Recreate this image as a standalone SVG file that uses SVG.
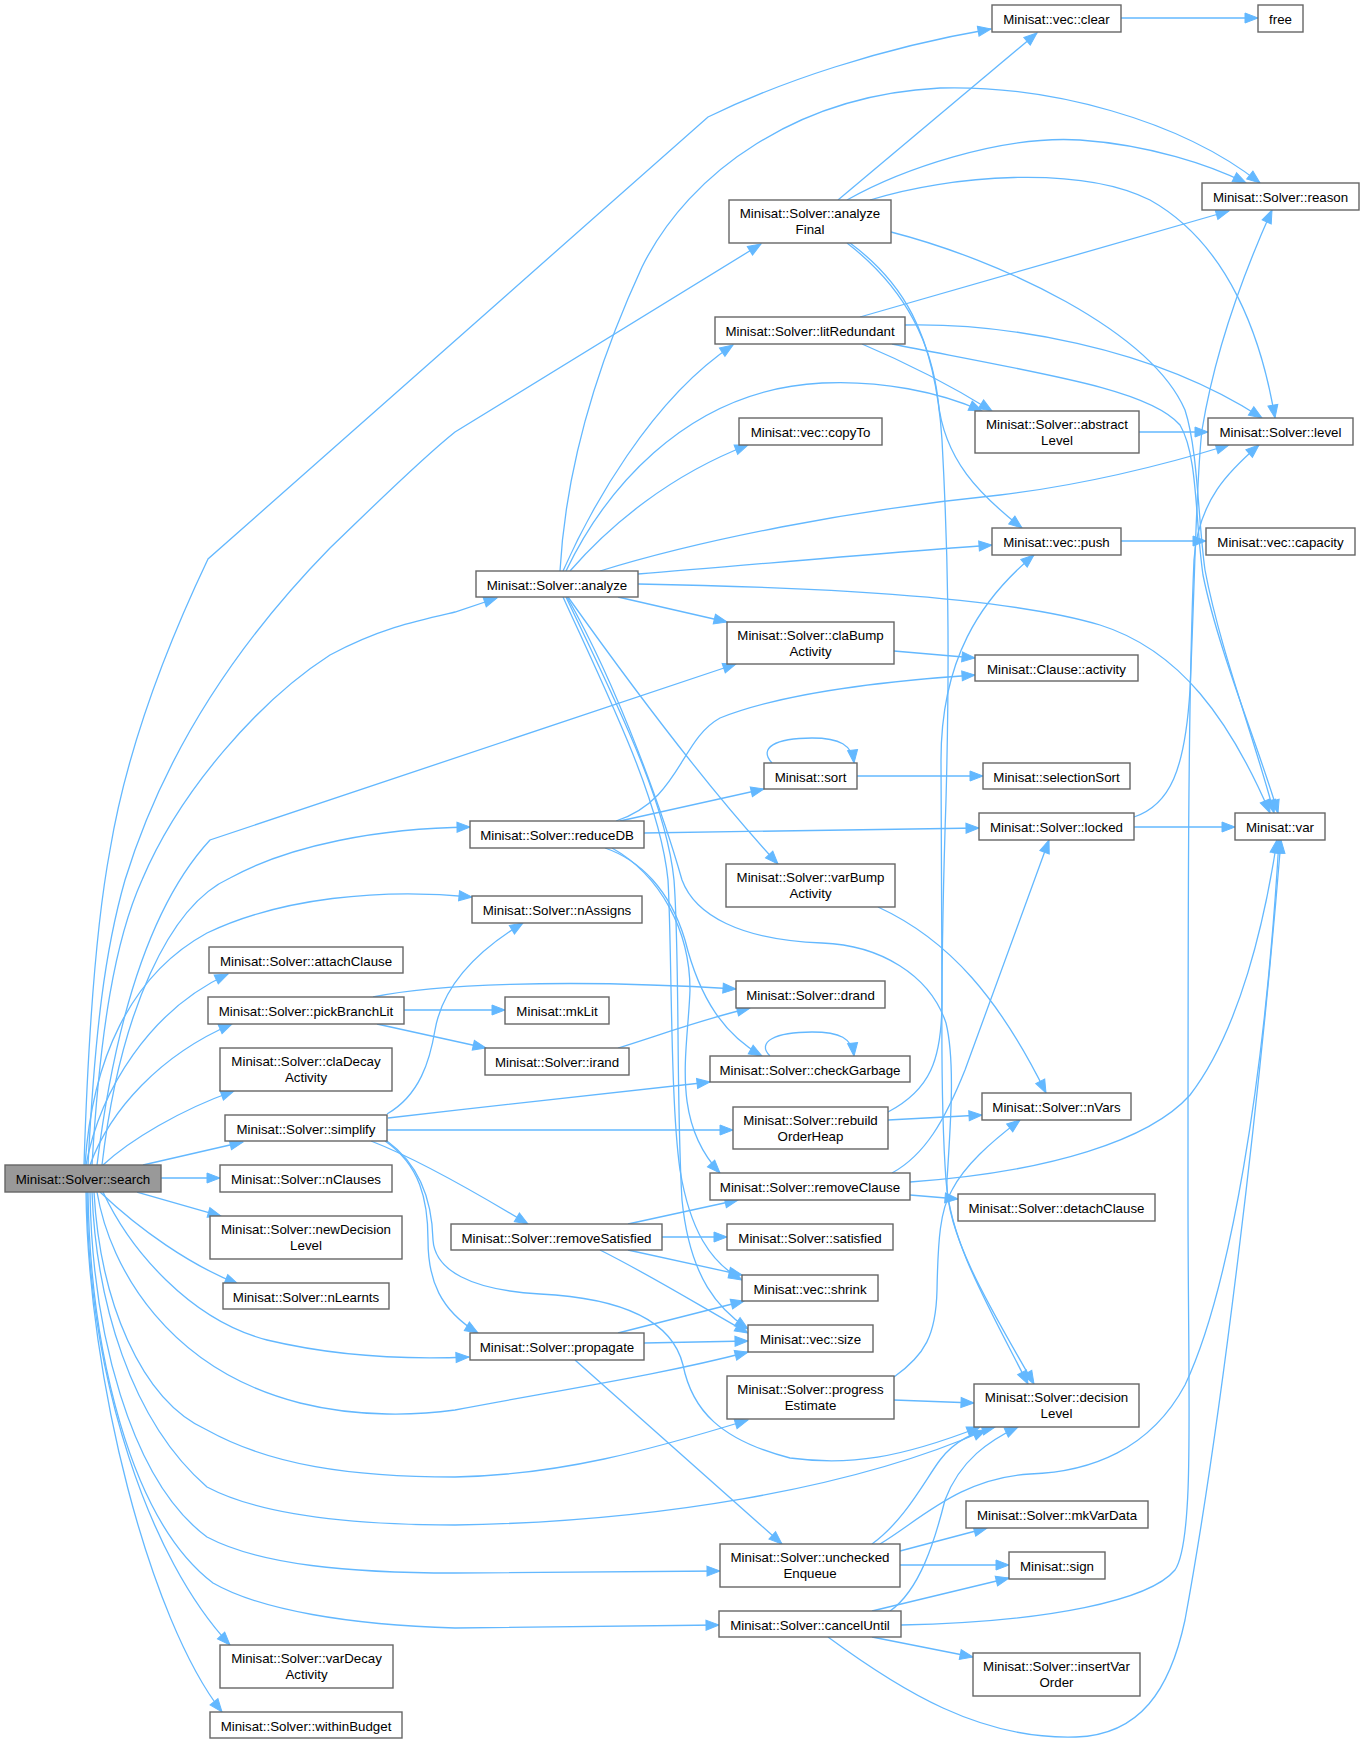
<svg xmlns="http://www.w3.org/2000/svg" width="1364" height="1745" viewBox="0 0 1364 1745">
<style>
.n rect{fill:#fff;stroke:#666;stroke-width:1.4}
.n text{font-family:"Liberation Sans",Arial,Helvetica,sans-serif;font-size:13.3px;text-anchor:middle;fill:#000}
#edges path{fill:none;stroke:#63b8ff;stroke-width:1.3;marker-end:url(#ah)}
</style>
<defs>
<marker id="ah" markerUnits="userSpaceOnUse" markerWidth="14" markerHeight="11" refX="13" refY="5" orient="auto" overflow="visible">
<path d="M0,0 L13,5 L0,10 z" fill="#63b8ff" stroke="#63b8ff" stroke-width="1"/>
</marker>
</defs>
<rect width="1364" height="1745" fill="#fff"/>
<g id="edges">
<!-- search -->
<path d="M84,1165 C88,1040 95,930 110,850 C125,760 160,660 208,559 L708,117 C780,82 880,48 991,29"/>
<path d="M88,1165 C95,1030 105,950 125,880 C165,750 240,640 330,548 C380,500 420,460 455,432 L761,244"/>
<path d="M92,1165 C100,1030 115,940 142,880 C180,790 260,700 330,655 C380,628 420,620 455,612 L497,598"/>
<path d="M97,1165 C115,1020 150,905 210,840 L736,664"/>
<path d="M102,1165 C120,1010 170,905 230,878 C290,845 380,828 470,827"/>
<path d="M85,1165 C92,1060 130,975 207,933 C280,898 380,888 472,897"/>
<path d="M86,1165 C100,1090 150,1010 228,974"/>
<path d="M90,1165 C110,1110 160,1055 232,1024"/>
<path d="M103,1165 C130,1140 180,1110 234,1091"/>
<path d="M143,1165 L243,1142"/>
<path d="M161,1178 L220,1178"/>
<path d="M137,1192 L221,1216"/>
<path d="M100,1192 C140,1230 190,1265 238,1284"/>
<path d="M103,1192 C130,1250 190,1320 267,1340 C330,1355 400,1360 469,1357"/>
<path d="M97,1192 C110,1270 170,1370 300,1403 C360,1418 420,1415 455,1410 C560,1390 660,1375 748,1352"/>
<path d="M94,1192 C100,1300 140,1400 207,1430 C270,1465 350,1477 455,1477 C560,1475 650,1450 748,1420"/>
<path d="M92,1192 C96,1300 130,1420 207,1487 C260,1515 350,1525 455,1525 C650,1522 850,1490 986,1430"/>
<path d="M90,1192 C92,1330 130,1480 207,1537 C260,1565 350,1573 455,1573 L720,1571"/>
<path d="M88,1192 C90,1350 130,1520 213,1583 C260,1610 350,1625 455,1628 L719,1625"/>
<path d="M87,1192 C88,1380 150,1560 230,1645"/>
<path d="M86,1192 C88,1380 150,1620 222,1712"/>
<!-- analyzeFinal -->
<path d="M838,200 L1037,33"/>
<path d="M847,200 C900,170 1000,135 1080,140 C1150,145 1210,165 1246,183"/>
<path d="M870,200 C950,175 1080,165 1150,200 C1230,245 1262,340 1275,418"/>
<path d="M891,232 C1000,260 1150,330 1185,410 C1198,450 1198,520 1205,570 C1220,650 1255,740 1274,813"/>
<path d="M847,243 C895,280 930,330 938,400 C944,460 980,495 1022,528"/>
<path d="M850,243 C900,280 935,330 942,440 C948,550 950,650 946,800 C941,950 940,1100 946,1180 C950,1240 985,1300 1028,1384"/>
<!-- litRedundant -->
<path d="M860,317 L1229,211"/>
<path d="M905,325 C1000,323 1150,345 1262,418"/>
<path d="M892,344 C1050,375 1150,390 1180,425 C1198,455 1195,520 1203,575 C1218,650 1258,745 1278,813"/>
<path d="M862,344 C900,360 950,385 992,411"/>
<!-- analyze -->
<path d="M560,571 C565,480 590,380 642,267 C690,170 800,95 940,88 C1050,85 1180,120 1260,183"/>
<path d="M563,571 C590,510 650,400 733,345"/>
<path d="M566,571 C600,500 680,390 822,383 C880,380 940,392 982,411"/>
<path d="M570,571 C610,525 670,475 748,445"/>
<path d="M600,571 C700,540 850,510 1000,495 C1100,483 1180,460 1229,445"/>
<path d="M638,574 C750,565 880,553 992,545"/>
<path d="M638,584 C800,587 1000,595 1100,625 C1180,650 1230,720 1270,813"/>
<path d="M618,597 L727,622"/>
<path d="M568,597 C620,670 700,780 778,864"/>
<path d="M563,597 C610,700 660,800 668,880 C672,950 670,1100 680,1170 C690,1230 710,1262 742,1280"/>
<path d="M566,597 C615,700 666,800 674,880 C680,960 676,1100 682,1200 C690,1280 720,1310 748,1329"/>
<path d="M567,597 C620,690 665,820 682,880 C695,915 740,940 822,943 C880,945 930,975 946,1023 C955,1060 951,1120 947,1180 C945,1230 985,1300 1034,1384"/>
<!-- others -->
<path d="M1121,18 L1258,18"/>
<path d="M1139,432 L1208,432"/>
<path d="M1121,541 L1206,541"/>
<path d="M894,651 L975,658"/>
<path d="M616,821 C680,800 680,740 720,718 C790,690 900,680 975,675"/>
<path d="M620,821 L764,789"/>
<path d="M644,833 L979,828"/>
<path d="M605,848 C640,860 670,890 685,940 C700,1000 725,1035 762,1056"/>
<path d="M612,848 C660,875 690,930 690,990 C688,1050 670,1120 720,1173"/>
<path d="M857,776 L983,776"/>
<path d="M772,763 C758,748 775,738 812,738 C840,738 852,745 854,763"/>
<path d="M770,1056 C756,1042 775,1032 812,1032 C840,1032 852,1038 854,1056"/>
<path d="M1134,827 L1235,827"/>
<path d="M1134,817 C1170,805 1185,770 1190,690 C1195,580 1196,480 1202,430 C1215,350 1245,270 1272,210"/>
<path d="M878,907 C950,940 1000,1000 1046,1093"/>
<path d="M888,1120 L982,1115"/>
<path d="M888,1112 C930,1090 942,1060 942,1000 L941,760 C941,660 980,600 1034,555"/>
<path d="M892,1173 C925,1155 945,1120 965,1070 L1049,840"/>
<path d="M910,1182 C1050,1172 1150,1140 1190,1095 C1240,1030 1265,920 1277,840"/>
<path d="M910,1195 L958,1199"/>
<path d="M628,1224 L738,1200"/>
<path d="M662,1237 L727,1237"/>
<path d="M628,1250 L742,1275"/>
<path d="M600,1250 C650,1275 690,1300 748,1333"/>
<path d="M618,1333 L744,1301"/>
<path d="M644,1343 L748,1341"/>
<path d="M575,1360 L782,1544"/>
<path d="M894,1400 L974,1403"/>
<path d="M894,1377 C925,1355 936,1335 937,1290 C938,1240 940,1210 952,1190 C965,1165 990,1143 1020,1120"/>
<path d="M872,1544 C905,1520 925,1480 940,1460 C955,1440 975,1432 995,1427"/>
<path d="M880,1544 C920,1520 960,1478 1030,1474 C1090,1472 1150,1450 1185,1385 C1230,1290 1265,1080 1279,840"/>
<path d="M900,1551 L987,1528"/>
<path d="M900,1565 L1009,1565"/>
<path d="M890,1611 C920,1590 935,1540 945,1500 C960,1460 990,1440 1018,1427"/>
<path d="M872,1611 L1009,1578"/>
<path d="M901,1625 C1050,1622 1150,1600 1175,1570 C1195,1540 1188,1400 1188,1200 C1188,900 1188,700 1194,560 C1198,500 1230,470 1259,445"/>
<path d="M872,1637 L973,1657"/>
<path d="M828,1637 C900,1690 980,1740 1076,1737 C1140,1735 1170,1690 1185,1620 C1220,1430 1260,1100 1281,840"/>
<!-- simplify -->
<path d="M387,1114 C420,1095 430,1060 435,1030 C442,990 470,955 523,923"/>
<path d="M388,1118 C500,1105 620,1092 710,1082"/>
<path d="M387,1130 L733,1130"/>
<path d="M371,1141 C420,1160 480,1195 528,1224"/>
<path d="M385,1141 C420,1165 428,1200 428,1240 C428,1280 440,1310 478,1333"/>
<path d="M387,1141 C420,1165 432,1200 433,1240 C435,1270 470,1290 540,1294 C620,1298 672,1320 683,1365 C692,1410 720,1440 790,1458 C850,1466 900,1458 980,1427"/>
<!-- pickBranchLit / irand -->
<path d="M373,997 C430,985 560,978 736,989"/>
<path d="M404,1010 L505,1010"/>
<path d="M377,1024 L486,1048"/>
<path d="M618,1048 C660,1035 700,1020 750,1008"/>
</g>
<g id="n_search" class="n"><rect x="5" y="1165" width="156" height="27" style="fill:#999"/><text x="83" y="1183.5">Minisat::Solver::search</text></g>
<g id="n_clear" class="n"><rect x="992" y="5" width="129" height="27"/><text x="1056.5" y="23.5">Minisat::vec::clear</text></g>
<g id="n_free" class="n"><rect x="1258" y="5" width="45" height="27"/><text x="1280.5" y="23.5">free</text></g>
<g id="n_reason" class="n"><rect x="1202" y="183" width="157" height="27"/><text x="1280.5" y="201.5">Minisat::Solver::reason</text></g>
<g id="n_analyzeFinal" class="n"><rect x="729" y="200" width="162" height="43"/><text x="810" y="217.5">Minisat::Solver::analyze</text><text x="810" y="233.5">Final</text></g>
<g id="n_litRedundant" class="n"><rect x="715" y="317" width="190" height="27"/><text x="810" y="335.5">Minisat::Solver::litRedundant</text></g>
<g id="n_abstractLevel" class="n"><rect x="975" y="411" width="164" height="42"/><text x="1057" y="428.5">Minisat::Solver::abstract</text><text x="1057" y="444.5">Level</text></g>
<g id="n_level" class="n"><rect x="1208" y="418" width="145" height="27"/><text x="1280.5" y="436.5">Minisat::Solver::level</text></g>
<g id="n_copyTo" class="n"><rect x="739" y="418" width="143" height="27"/><text x="810.5" y="436.5">Minisat::vec::copyTo</text></g>
<g id="n_push" class="n"><rect x="992" y="528" width="129" height="27"/><text x="1056.5" y="546.5">Minisat::vec::push</text></g>
<g id="n_capacity" class="n"><rect x="1206" y="528" width="149" height="27"/><text x="1280.5" y="546.5">Minisat::vec::capacity</text></g>
<g id="n_analyze" class="n"><rect x="476" y="571" width="162" height="26"/><text x="557" y="589.5">Minisat::Solver::analyze</text></g>
<g id="n_claBumpActivity" class="n"><rect x="727" y="622" width="167" height="42"/><text x="810.5" y="639.5">Minisat::Solver::claBump</text><text x="810.5" y="655.5">Activity</text></g>
<g id="n_activity" class="n"><rect x="975" y="655" width="163" height="26"/><text x="1056.5" y="673.5">Minisat::Clause::activity</text></g>
<g id="n_sort" class="n"><rect x="764" y="763" width="93" height="26"/><text x="810.5" y="781.5">Minisat::sort</text></g>
<g id="n_selectionSort" class="n"><rect x="983" y="763" width="147" height="26"/><text x="1056.5" y="781.5">Minisat::selectionSort</text></g>
<g id="n_reduceDB" class="n"><rect x="470" y="821" width="174" height="27"/><text x="557" y="839.5">Minisat::Solver::reduceDB</text></g>
<g id="n_locked" class="n"><rect x="979" y="813" width="155" height="27"/><text x="1056.5" y="831.5">Minisat::Solver::locked</text></g>
<g id="n_var" class="n"><rect x="1235" y="813" width="90" height="27"/><text x="1280" y="831.5">Minisat::var</text></g>
<g id="n_varBumpActivity" class="n"><rect x="726" y="864" width="169" height="43"/><text x="810.5" y="881.5">Minisat::Solver::varBump</text><text x="810.5" y="897.5">Activity</text></g>
<g id="n_nAssigns" class="n"><rect x="472" y="896" width="170" height="27"/><text x="557" y="914.5">Minisat::Solver::nAssigns</text></g>
<g id="n_attachClause" class="n"><rect x="209" y="947" width="194" height="26"/><text x="306" y="965.5">Minisat::Solver::attachClause</text></g>
<g id="n_pickBranchLit" class="n"><rect x="208" y="997" width="196" height="27"/><text x="306" y="1015.5">Minisat::Solver::pickBranchLit</text></g>
<g id="n_drand" class="n"><rect x="736" y="981" width="149" height="27"/><text x="810.5" y="999.5">Minisat::Solver::drand</text></g>
<g id="n_mkLit" class="n"><rect x="505" y="997" width="104" height="27"/><text x="557" y="1015.5">Minisat::mkLit</text></g>
<g id="n_irand" class="n"><rect x="485" y="1048" width="144" height="27"/><text x="557" y="1066.5">Minisat::Solver::irand</text></g>
<g id="n_claDecayActivity" class="n"><rect x="220" y="1048" width="172" height="43"/><text x="306" y="1065.5">Minisat::Solver::claDecay</text><text x="306" y="1081.5">Activity</text></g>
<g id="n_checkGarbage" class="n"><rect x="710" y="1056" width="200" height="26"/><text x="810" y="1074.5">Minisat::Solver::checkGarbage</text></g>
<g id="n_simplify" class="n"><rect x="225" y="1115" width="162" height="26"/><text x="306" y="1133.5">Minisat::Solver::simplify</text></g>
<g id="n_rebuildOrderHeap" class="n"><rect x="733" y="1107" width="155" height="42"/><text x="810.5" y="1124.5">Minisat::Solver::rebuild</text><text x="810.5" y="1140.5">OrderHeap</text></g>
<g id="n_nVars" class="n"><rect x="982" y="1093" width="149" height="27"/><text x="1056.5" y="1111.5">Minisat::Solver::nVars</text></g>
<g id="n_nClauses" class="n"><rect x="220" y="1165" width="172" height="27"/><text x="306" y="1183.5">Minisat::Solver::nClauses</text></g>
<g id="n_removeClause" class="n"><rect x="710" y="1173" width="200" height="27"/><text x="810" y="1191.5">Minisat::Solver::removeClause</text></g>
<g id="n_detachClause" class="n"><rect x="958" y="1194" width="197" height="27"/><text x="1056.5" y="1212.5">Minisat::Solver::detachClause</text></g>
<g id="n_newDecisionLevel" class="n"><rect x="210" y="1216" width="192" height="43"/><text x="306" y="1233.5">Minisat::Solver::newDecision</text><text x="306" y="1249.5">Level</text></g>
<g id="n_removeSatisfied" class="n"><rect x="451" y="1224" width="211" height="26"/><text x="556.5" y="1242.5">Minisat::Solver::removeSatisfied</text></g>
<g id="n_satisfied" class="n"><rect x="727" y="1224" width="166" height="26"/><text x="810" y="1242.5">Minisat::Solver::satisfied</text></g>
<g id="n_nLearnts" class="n"><rect x="223" y="1283" width="166" height="26"/><text x="306" y="1301.5">Minisat::Solver::nLearnts</text></g>
<g id="n_shrink" class="n"><rect x="742" y="1275" width="136" height="26"/><text x="810" y="1293.5">Minisat::vec::shrink</text></g>
<g id="n_propagate" class="n"><rect x="470" y="1333" width="174" height="27"/><text x="557" y="1351.5">Minisat::Solver::propagate</text></g>
<g id="n_size" class="n"><rect x="748" y="1325" width="125" height="27"/><text x="810.5" y="1343.5">Minisat::vec::size</text></g>
<g id="n_progressEstimate" class="n"><rect x="727" y="1376" width="167" height="43"/><text x="810.5" y="1393.5">Minisat::Solver::progress</text><text x="810.5" y="1409.5">Estimate</text></g>
<g id="n_decisionLevel" class="n"><rect x="974" y="1384" width="165" height="43"/><text x="1056.5" y="1401.5">Minisat::Solver::decision</text><text x="1056.5" y="1417.5">Level</text></g>
<g id="n_mkVarData" class="n"><rect x="966" y="1501" width="182" height="27"/><text x="1057" y="1519.5">Minisat::Solver::mkVarData</text></g>
<g id="n_uncheckedEnqueue" class="n"><rect x="720" y="1544" width="180" height="43"/><text x="810" y="1561.5">Minisat::Solver::unchecked</text><text x="810" y="1577.5">Enqueue</text></g>
<g id="n_sign" class="n"><rect x="1009" y="1552" width="96" height="27"/><text x="1057" y="1570.5">Minisat::sign</text></g>
<g id="n_cancelUntil" class="n"><rect x="719" y="1611" width="182" height="26"/><text x="810" y="1629.5">Minisat::Solver::cancelUntil</text></g>
<g id="n_insertVarOrder" class="n"><rect x="973" y="1653" width="167" height="43"/><text x="1056.5" y="1670.5">Minisat::Solver::insertVar</text><text x="1056.5" y="1686.5">Order</text></g>
<g id="n_varDecayActivity" class="n"><rect x="220" y="1645" width="173" height="43"/><text x="306.5" y="1662.5">Minisat::Solver::varDecay</text><text x="306.5" y="1678.5">Activity</text></g>
<g id="n_withinBudget" class="n"><rect x="210" y="1712" width="192" height="26"/><text x="306" y="1730.5">Minisat::Solver::withinBudget</text></g>
</svg>
